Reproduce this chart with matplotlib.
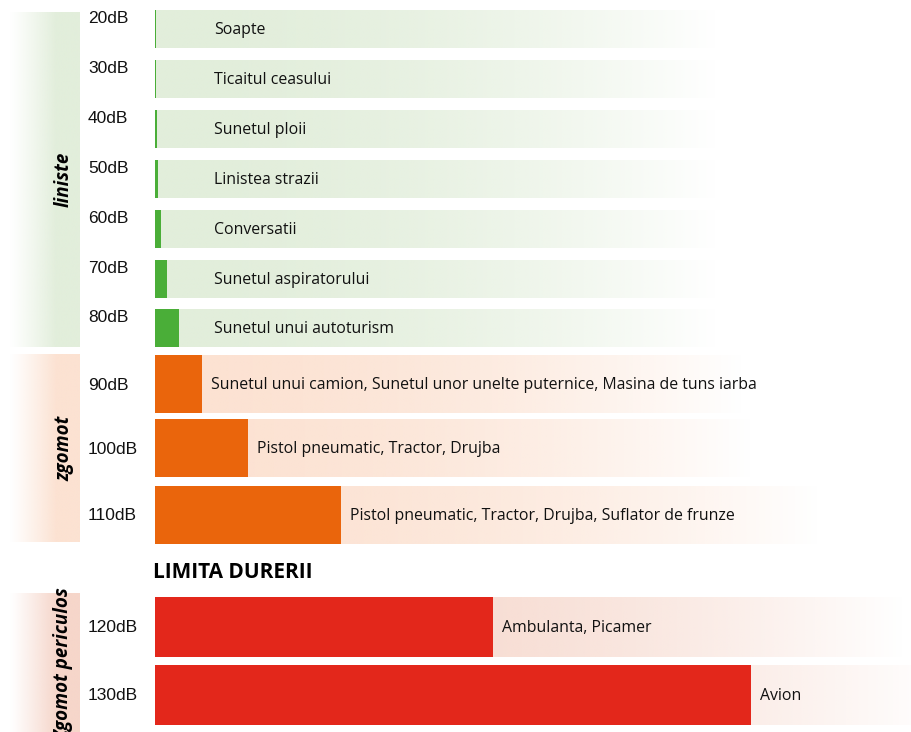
import numpy as np
import matplotlib.pyplot as plt
from matplotlib.colors import to_rgb

# noise levels and what makes them
levels = ["20dB", "30dB", "40dB", "50dB", "60dB", "70dB", "80dB",
          "90dB", "100dB", "110dB", "120dB", "130dB"]
bar_len = [1, 1.3, 2, 3, 6, 12, 24, 47, 93, 186, 338, 596]
sources = ["Soapte", "Ticaitul ceasului", "Sunetul ploii", "Linistea strazii",
           "Conversatii", "Sunetul aspiratorului", "Sunetul unui autoturism",
           "Sunetul unui camion, Sunetul unor unelte puternice, Masina de tuns iarba",
           "Pistol pneumatic, Tractor, Drujba",
           "Pistol pneumatic, Tractor, Drujba, Suflator de frunze",
           "Ambulanta, Picamer", "Avion"]
group = ["liniste"] * 7 + ["zgomot"] * 3 + ["Zgomot periculos"] * 2

# layout (pixels)
row_center = [29, 79, 129, 179, 229, 279, 328, 384, 448, 515, 627, 695]
row_height = [38] * 7 + [58] * 3 + [60] * 2
bg_end = [717] * 7 + [743, 752, 820, 905, 940]
x0 = 155

bar_col = {"liniste": "#4aae38", "zgomot": "#ea650c", "Zgomot periculos": "#e3271b"}
bg_col = {"liniste": "#e2eedb", "zgomot": "#fce2d2", "Zgomot periculos": "#f6d6ca"}
band_span = {"liniste": (12, 347), "zgomot": (354, 542), "Zgomot periculos": (593, 735)}

fig = plt.figure(figsize=(9.12, 7.32), dpi=100)
ax = fig.add_axes([0, 0, 1, 1])
ax.set_xlim(0, 912)
ax.set_ylim(732, 0)
ax.axis("off")


def gradient(x_a, x_b, y_a, y_b, color, alpha):
    img = np.zeros((1, len(alpha), 4))
    img[..., :3] = to_rgb(color)
    img[0, :, 3] = alpha
    ax.imshow(img, extent=(x_a, x_b, y_b, y_a), aspect="auto",
              interpolation="bilinear", zorder=1)


t = np.linspace(0, 1, 256)

# category bands on the left
for name, (ya, yb) in band_span.items():
    gradient(10, 80, ya, yb, bg_col[name], np.clip(t * 1.5, 0, 1) ** 1.1)
    ax.text(64, (ya + yb) / 2, name, rotation=90, ha="center", va="center",
            fontsize=13.5, fontweight="bold", style="italic",
            family="Open Sans", color="black", zorder=3)

# row backgrounds fading to white
for i in range(len(levels)):
    yc, h = row_center[i], row_height[i]
    gradient(x0, bg_end[i], yc - h / 2, yc + h / 2, bg_col[group[i]], 1 - t ** 2)

# bars
ax.barh(row_center, bar_len, left=x0, height=row_height,
        color=[bar_col[g] for g in group], zorder=2)

for i in range(len(levels)):
    yc, h = row_center[i], row_height[i]
    if group[i] == "liniste":
        ax.text(88, yc - h / 2 + 1, levels[i], ha="left", va="top",
                fontsize=12.5, family="Liberation Sans", color="#111111")
        tx = 214
    else:
        ax.text(88, yc + 1, levels[i], ha="left", va="center",
                fontsize=12.5, family="Liberation Sans", color="#111111")
        tx = x0 + bar_len[i] + 9
    ax.text(tx, yc + 1, sources[i], ha="left", va="center",
            fontsize=11.4, family="Open Sans", color="#111111", zorder=3)

ax.text(153, 572, "LIMITA DURERII", ha="left", va="center",
        fontsize=15, fontweight="bold", family="Open Sans", color="black")

fig.savefig("out.png", dpi=100)
